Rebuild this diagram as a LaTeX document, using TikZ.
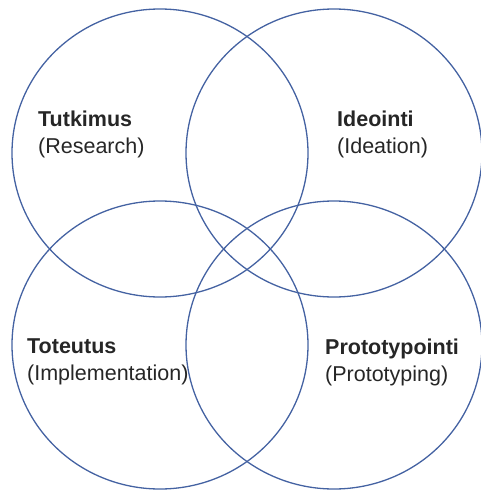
\documentclass[tikz,border=0pt]{standalone}
\usepackage{fontspec}
\setmainfont{Liberation Sans}
\usetikzlibrary{shapes.geometric}
\definecolor{ringblue}{RGB}{68,98,162}
\tikzset{ring/.style={ellipse,draw=ringblue,line width=1.3pt,minimum width=296pt,minimum height=288pt,inner sep=0pt,outer sep=0pt},
  phase/.style={anchor=west,align=left,inner sep=0pt,font=\fontsize{21.5}{27}\selectfont,text=black!85}}
\begin{document}
\begin{tikzpicture}[x=1pt,y=1pt]
\useasboundingbox(0,0)rectangle(481,-490);
\node[ring](r1)at(160,-153){};
\node[ring](r2)at(334,-153){};
\node[ring](r3)at(160,-345){};
\node[ring](r4)at(334,-345){};
\node[phase](t1)at(38,-134){\textbf{Tutkimus}\\(Research)};
\node[phase](t2)at(337,-134){\textbf{Ideointi}\\(Ideation)};
\node[phase](t3)at(27,-362){\textbf{Toteutus}\\(Implementation)};
\node[phase](t4)at(325,-362){\textbf{Prototypointi}\\(Prototyping)};
\end{tikzpicture}
\end{document}
